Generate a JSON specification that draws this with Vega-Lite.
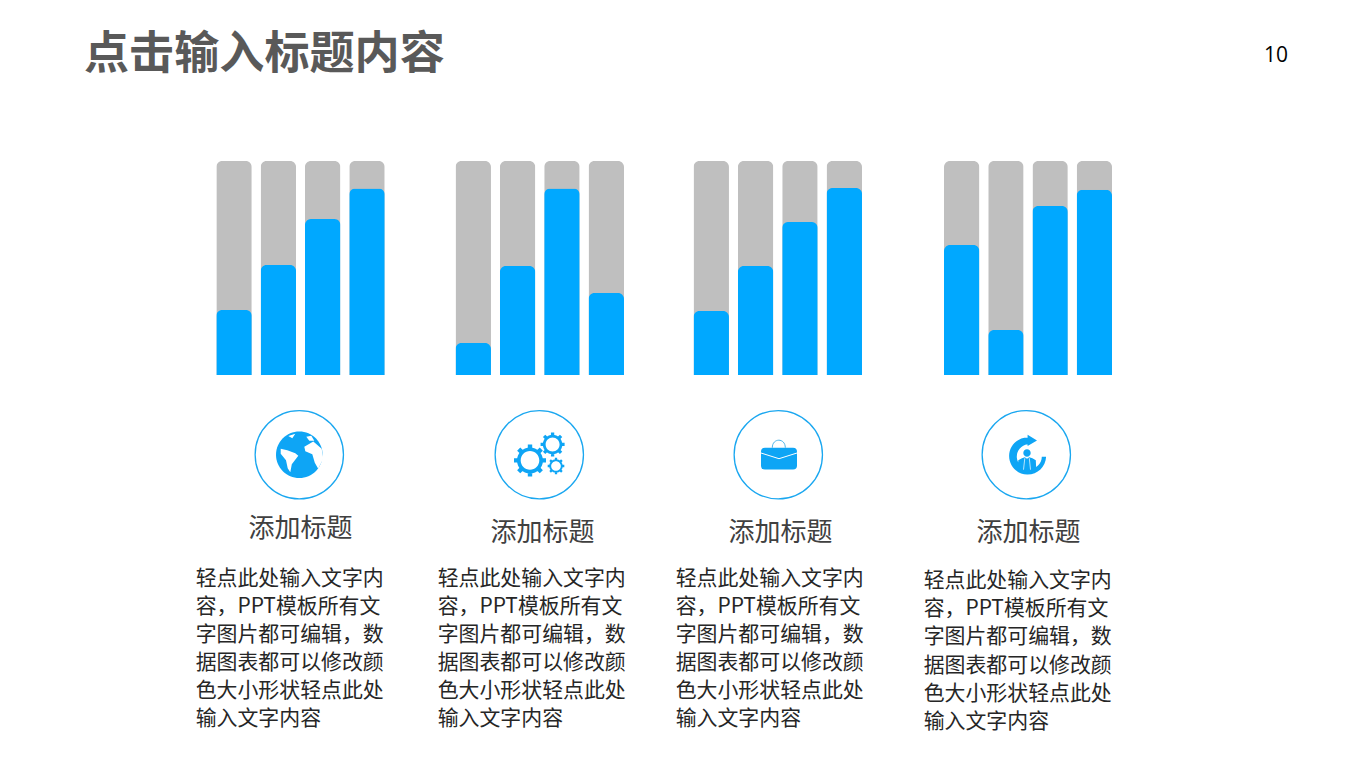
{"$schema":"https://vega.github.io/schema/vega-lite/v6.json","width":1350,"height":759,"padding":0,"autosize":{"type":"fit","contains":"padding"},"background":"#ffffff","view":{"stroke":null},"config":{"text":{"font":"Noto Sans CJK SC"}},
"datasets":{
"bars":[
{"group":"A","bar":1,"value":30.4,"total":100},{"group":"A","bar":2,"value":51.4,"total":100},{"group":"A","bar":3,"value":72.9,"total":100},{"group":"A","bar":4,"value":87.1,"total":100},
{"group":"B","bar":1,"value":14.9,"total":100},{"group":"B","bar":2,"value":50.9,"total":100},{"group":"B","bar":3,"value":87.1,"total":100},{"group":"B","bar":4,"value":38.3,"total":100},
{"group":"C","bar":1,"value":29.9,"total":100},{"group":"C","bar":2,"value":50.9,"total":100},{"group":"C","bar":3,"value":71.5,"total":100},{"group":"C","bar":4,"value":87.4,"total":100},
{"group":"D","bar":1,"value":60.7,"total":100},{"group":"D","bar":2,"value":21.0,"total":100},{"group":"D","bar":3,"value":79.0,"total":100},{"group":"D","bar":4,"value":86.6,"total":100}],
"groups":[{"group":"A","heading":"添加标题"},{"group":"B","heading":"添加标题"},{"group":"C","heading":"添加标题"},{"group":"D","heading":"添加标题"}],
"lines":[
{"group":"A","line":1,"text":"轻点此处输入文字内"},{"group":"A","line":2,"text":"容，PPT模板所有文"},{"group":"A","line":3,"text":"字图片都可编辑，数"},{"group":"A","line":4,"text":"据图表都可以修改颜"},{"group":"A","line":5,"text":"色大小形状轻点此处"},{"group":"A","line":6,"text":"输入文字内容"},
{"group":"B","line":1,"text":"轻点此处输入文字内"},{"group":"B","line":2,"text":"容，PPT模板所有文"},{"group":"B","line":3,"text":"字图片都可编辑，数"},{"group":"B","line":4,"text":"据图表都可以修改颜"},{"group":"B","line":5,"text":"色大小形状轻点此处"},{"group":"B","line":6,"text":"输入文字内容"},
{"group":"C","line":1,"text":"轻点此处输入文字内"},{"group":"C","line":2,"text":"容，PPT模板所有文"},{"group":"C","line":3,"text":"字图片都可编辑，数"},{"group":"C","line":4,"text":"据图表都可以修改颜"},{"group":"C","line":5,"text":"色大小形状轻点此处"},{"group":"C","line":6,"text":"输入文字内容"},
{"group":"D","line":1,"text":"轻点此处输入文字内"},{"group":"D","line":2,"text":"容，PPT模板所有文"},{"group":"D","line":3,"text":"字图片都可编辑，数"},{"group":"D","line":4,"text":"据图表都可以修改颜"},{"group":"D","line":5,"text":"色大小形状轻点此处"},{"group":"D","line":6,"text":"输入文字内容"}],
"page":[{"title":"点击输入标题内容","number":"10"}]
},
"resolve":{"scale":{"x":"independent","y":"independent"}},
"layer":[
{"data":{"name":"page"},"mark":{"type":"text","fontSize":45.1,"fontWeight":"bold","color":"#595959","align":"left"},"encoding":{"x":{"field":"title","type":"nominal","axis":null,"scale":{"type":"point","range":[84,84]}},"y":{"field":"title","type":"nominal","axis":null,"scale":{"type":"point","range":[55,55]}},"text":{"field":"title"}}},
{"data":{"name":"page"},"mark":{"type":"text","fontSize":21,"font":"Open Sans","color":"#000000","align":"left"},"encoding":{"x":{"field":"number","type":"nominal","axis":null,"scale":{"type":"point","range":[1264,1264]}},"y":{"field":"number","type":"nominal","axis":null,"scale":{"type":"point","range":[56,56]}},"text":{"field":"number"}}},

{"data":{"name":"bars"},"transform":[{"filter":"datum.group==='A'"}],"encoding":{"x":{"field":"bar","type":"ordinal","axis":null,"scale":{"type":"band","range":[216.3,384.7],"paddingInner":0.2,"paddingOuter":0}}},"layer":[
{"mark":{"type":"bar","color":"#bfbfbf","cornerRadiusTopLeft":6,"cornerRadiusTopRight":6},"encoding":{"y":{"field":"total","type":"quantitative","axis":null,"scale":{"domain":[0,100],"range":[375,161]}}}},
{"mark":{"type":"bar","color":"#00a8ff","cornerRadiusTopLeft":6,"cornerRadiusTopRight":6},"encoding":{"y":{"field":"value","type":"quantitative","axis":null,"scale":{"domain":[0,100],"range":[375,161]}}}}]},
{"data":{"name":"bars"},"transform":[{"filter":"datum.group==='B'"}],"encoding":{"x":{"field":"bar","type":"ordinal","axis":null,"scale":{"type":"band","range":[455.5,624],"paddingInner":0.2,"paddingOuter":0}}},"layer":[
{"mark":{"type":"bar","color":"#bfbfbf","cornerRadiusTopLeft":6,"cornerRadiusTopRight":6},"encoding":{"y":{"field":"total","type":"quantitative","axis":null,"scale":{"domain":[0,100],"range":[375,161]}}}},
{"mark":{"type":"bar","color":"#00a8ff","cornerRadiusTopLeft":6,"cornerRadiusTopRight":6},"encoding":{"y":{"field":"value","type":"quantitative","axis":null,"scale":{"domain":[0,100],"range":[375,161]}}}}]},
{"data":{"name":"bars"},"transform":[{"filter":"datum.group==='C'"}],"encoding":{"x":{"field":"bar","type":"ordinal","axis":null,"scale":{"type":"band","range":[693.5,862],"paddingInner":0.2,"paddingOuter":0}}},"layer":[
{"mark":{"type":"bar","color":"#bfbfbf","cornerRadiusTopLeft":6,"cornerRadiusTopRight":6},"encoding":{"y":{"field":"total","type":"quantitative","axis":null,"scale":{"domain":[0,100],"range":[375,161]}}}},
{"mark":{"type":"bar","color":"#00a8ff","cornerRadiusTopLeft":6,"cornerRadiusTopRight":6},"encoding":{"y":{"field":"value","type":"quantitative","axis":null,"scale":{"domain":[0,100],"range":[375,161]}}}}]},
{"data":{"name":"bars"},"transform":[{"filter":"datum.group==='D'"}],"encoding":{"x":{"field":"bar","type":"ordinal","axis":null,"scale":{"type":"band","range":[944,1112],"paddingInner":0.2,"paddingOuter":0}}},"layer":[
{"mark":{"type":"bar","color":"#bfbfbf","cornerRadiusTopLeft":6,"cornerRadiusTopRight":6},"encoding":{"y":{"field":"total","type":"quantitative","axis":null,"scale":{"domain":[0,100],"range":[375,161]}}}},
{"mark":{"type":"bar","color":"#00a8ff","cornerRadiusTopLeft":6,"cornerRadiusTopRight":6},"encoding":{"y":{"field":"value","type":"quantitative","axis":null,"scale":{"domain":[0,100],"range":[375,161]}}}}]},

{"data":{"name":"groups"},"transform":[{"filter":"datum.group==='A'"}],"encoding":{"x":{"field":"group","type":"nominal","axis":null,"scale":{"type":"point","range":[299.3,299.3]}},"y":{"field":"group","type":"nominal","axis":null,"scale":{"type":"point","range":[454.7,454.7]}}},"layer":[
{"mark":{"type":"point","shape":"circle","size":7800,"filled":false,"stroke":"#1aa7f0","strokeWidth":1.3,"opacity":1}},
{"mark":{"type":"point","shape":"M23.3 0A23.3 23.3 0 1 1 -23.3 0A23.3 23.3 0 1 1 23.3 0Z","size":4,"filled":true,"fill":"#0ea5f5","strokeWidth":0,"opacity":1}},
{"mark":{"type":"point","shape":"M-18.6 -6L-12 -4.4L-4 -1.5L-1 1L-7.5 9.5L-9 17.5L-11.6 13.5L-13.3 5.5L-18.6 -1ZM5 -8L14 -13.3L22.4 -6L24 4L18.9 14L15.5 8L13 -0.5L6 -3.5ZM-11 -18.6L-4 -21L-7 -16.5ZM7 -18L12 -19L15 -14L10 -14Z","size":4,"filled":true,"fill":"#ffffff","strokeWidth":0,"opacity":1}}]},

{"data":{"name":"groups"},"transform":[{"filter":"datum.group==='B'"}],"encoding":{"x":{"field":"group","type":"nominal","axis":null,"scale":{"type":"point","range":[539.3,539.3]}},"y":{"field":"group","type":"nominal","axis":null,"scale":{"type":"point","range":[454.7,454.7]}}},"layer":[
{"mark":{"type":"point","shape":"circle","size":7800,"filled":false,"stroke":"#1aa7f0","strokeWidth":1.3,"opacity":1}},
{"mark":{"type":"point","shape":"M13 0A13 13 0 1 1 -13 0A13 13 0 1 1 13 0ZM9.3 0A9.3 9.3 0 1 0 -9.3 0A9.3 9.3 0 1 0 9.3 0ZM12 -2.2L16 -2.2L16 2.2L12 2.2ZM10.04 6.93L12.87 9.76L9.76 12.87L6.93 10.04ZM2.2 12L2.2 16L-2.2 16L-2.2 12ZM-6.93 10.04L-9.76 12.87L-12.87 9.76L-10.04 6.93ZM-12 2.2L-16 2.2L-16 -2.2L-12 -2.2ZM-10.04 -6.93L-12.87 -9.76L-9.76 -12.87L-6.93 -10.04ZM-2.2 -12L-2.2 -16L2.2 -16L2.2 -12ZM6.93 -10.04L9.76 -12.87L12.87 -9.76L10.04 -6.93Z","size":4,"xOffset":-9.3,"yOffset":5.7,"filled":true,"fill":"#0ea5f5","strokeWidth":0,"opacity":1}},
{"mark":{"type":"point","shape":"M13 0A13 13 0 1 1 -13 0A13 13 0 1 1 13 0ZM9.3 0A9.3 9.3 0 1 0 -9.3 0A9.3 9.3 0 1 0 9.3 0ZM12 -2.2L16 -2.2L16 2.2L12 2.2ZM10.04 6.93L12.87 9.76L9.76 12.87L6.93 10.04ZM2.2 12L2.2 16L-2.2 16L-2.2 12ZM-6.93 10.04L-9.76 12.87L-12.87 9.76L-10.04 6.93ZM-12 2.2L-16 2.2L-16 -2.2L-12 -2.2ZM-10.04 -6.93L-12.87 -9.76L-9.76 -12.87L-6.93 -10.04ZM-2.2 -12L-2.2 -16L2.2 -16L2.2 -12ZM6.93 -10.04L9.76 -12.87L12.87 -9.76L10.04 -6.93Z","size":2.25,"xOffset":13.3,"yOffset":-10.3,"filled":true,"fill":"#0ea5f5","strokeWidth":0,"opacity":1}},
{"mark":{"type":"point","shape":"M13 0A13 13 0 1 1 -13 0A13 13 0 1 1 13 0ZM9.3 0A9.3 9.3 0 1 0 -9.3 0A9.3 9.3 0 1 0 9.3 0ZM12 -2.2L16 -2.2L16 2.2L12 2.2ZM10.04 6.93L12.87 9.76L9.76 12.87L6.93 10.04ZM2.2 12L2.2 16L-2.2 16L-2.2 12ZM-6.93 10.04L-9.76 12.87L-12.87 9.76L-10.04 6.93ZM-12 2.2L-16 2.2L-16 -2.2L-12 -2.2ZM-10.04 -6.93L-12.87 -9.76L-9.76 -12.87L-6.93 -10.04ZM-2.2 -12L-2.2 -16L2.2 -16L2.2 -12ZM6.93 -10.04L9.76 -12.87L12.87 -9.76L10.04 -6.93Z","size":1.08,"xOffset":16.7,"yOffset":11.3,"filled":true,"fill":"#0ea5f5","strokeWidth":0,"opacity":1}}]},

{"data":{"name":"groups"},"transform":[{"filter":"datum.group==='C'"}],"encoding":{"x":{"field":"group","type":"nominal","axis":null,"scale":{"type":"point","range":[778.3,778.3]}},"y":{"field":"group","type":"nominal","axis":null,"scale":{"type":"point","range":[454.7,454.7]}}},"layer":[
{"mark":{"type":"point","shape":"circle","size":7800,"filled":false,"stroke":"#1aa7f0","strokeWidth":1.3,"opacity":1}},
{"mark":{"type":"point","shape":"M-6 -7C-6 -17 7 -17 7 -7","size":4,"filled":false,"stroke":"#4db5ea","strokeWidth":1,"opacity":1}},
{"mark":{"type":"point","shape":"M-13.3 -7H14.7Q18.7 -7 18.7 -3V10.7Q18.7 14.7 14.7 14.7H-13.3Q-17.3 14.7 -17.3 10.7V-3Q-17.3 -7 -13.3 -7Z","size":4,"filled":true,"fill":"#0ea5f5","strokeWidth":0,"opacity":1}},
{"mark":{"type":"point","shape":"M-17.3 -1.7L0.7 4L18.7 -1.7","size":4,"filled":false,"stroke":"#ffffff","strokeWidth":1,"opacity":1}}]},

{"data":{"name":"groups"},"transform":[{"filter":"datum.group==='D'"}],"encoding":{"x":{"field":"group","type":"nominal","axis":null,"scale":{"type":"point","range":[1026.3,1026.3]}},"y":{"field":"group","type":"nominal","axis":null,"scale":{"type":"point","range":[454.7,454.7]}}},"layer":[
{"mark":{"type":"point","shape":"circle","size":7800,"filled":false,"stroke":"#1aa7f0","strokeWidth":1.3,"opacity":1}},
{"mark":{"type":"point","shape":"M19.8 2A18.5 18.5 0 1 1 1.3 -17.2L1.3 -10.5A12.5 12.5 0 1 0 15.5 2ZM1.3 -20L10.7 -14.3L1.3 -8.7ZM4.4 -1.7A3.7 3.7 0 1 1 -3 -1.7A3.7 3.7 0 1 1 4.4 -1.7ZM-8.5 16L-8 5.5Q-4 3 -1.5 2.5L0.7 4L3 2.5Q6 3 9.5 5.5L10 16Z","size":4,"filled":true,"fill":"#0ea5f5","strokeWidth":0,"opacity":1}},
{"mark":{"type":"point","shape":"M-1.5 3.5L-2.8 15M3 3.5L4.2 15","size":4,"filled":false,"stroke":"#ffffff","strokeWidth":0.7,"opacity":1}}]},

{"data":{"name":"groups"},"transform":[{"filter":"datum.group==='A'"}],"mark":{"type":"text","fontSize":26,"color":"#404040","align":"center"},"encoding":{"x":{"field":"group","type":"nominal","axis":null,"scale":{"type":"point","range":[300.5,300.5]}},"y":{"field":"group","type":"nominal","axis":null,"scale":{"type":"point","range":[529,529]}},"text":{"field":"heading"}}},
{"data":{"name":"groups"},"transform":[{"filter":"datum.group==='B'"}],"mark":{"type":"text","fontSize":26,"color":"#404040","align":"center"},"encoding":{"x":{"field":"group","type":"nominal","axis":null,"scale":{"type":"point","range":[542.5,542.5]}},"y":{"field":"group","type":"nominal","axis":null,"scale":{"type":"point","range":[533,533]}},"text":{"field":"heading"}}},
{"data":{"name":"groups"},"transform":[{"filter":"datum.group==='C'"}],"mark":{"type":"text","fontSize":26,"color":"#404040","align":"center"},"encoding":{"x":{"field":"group","type":"nominal","axis":null,"scale":{"type":"point","range":[780.5,780.5]}},"y":{"field":"group","type":"nominal","axis":null,"scale":{"type":"point","range":[533,533]}},"text":{"field":"heading"}}},
{"data":{"name":"groups"},"transform":[{"filter":"datum.group==='D'"}],"mark":{"type":"text","fontSize":26,"color":"#404040","align":"center"},"encoding":{"x":{"field":"group","type":"nominal","axis":null,"scale":{"type":"point","range":[1028.5,1028.5]}},"y":{"field":"group","type":"nominal","axis":null,"scale":{"type":"point","range":[533,533]}},"text":{"field":"heading"}}},

{"data":{"name":"lines"},"transform":[{"filter":"datum.group==='A'"}],"mark":{"type":"text","fontSize":20.9,"color":"#262626","align":"left"},"encoding":{"x":{"field":"group","type":"nominal","axis":null,"scale":{"type":"point","range":[195.7,195.7]}},"y":{"field":"line","type":"ordinal","axis":null,"scale":{"type":"point","range":[579,719],"padding":0}},"text":{"field":"text"}}},
{"data":{"name":"lines"},"transform":[{"filter":"datum.group==='B'"}],"mark":{"type":"text","fontSize":20.9,"color":"#262626","align":"left"},"encoding":{"x":{"field":"group","type":"nominal","axis":null,"scale":{"type":"point","range":[437.7,437.7]}},"y":{"field":"line","type":"ordinal","axis":null,"scale":{"type":"point","range":[579,719],"padding":0}},"text":{"field":"text"}}},
{"data":{"name":"lines"},"transform":[{"filter":"datum.group==='C'"}],"mark":{"type":"text","fontSize":20.9,"color":"#262626","align":"left"},"encoding":{"x":{"field":"group","type":"nominal","axis":null,"scale":{"type":"point","range":[675.7,675.7]}},"y":{"field":"line","type":"ordinal","axis":null,"scale":{"type":"point","range":[579,719],"padding":0}},"text":{"field":"text"}}},
{"data":{"name":"lines"},"transform":[{"filter":"datum.group==='D'"}],"mark":{"type":"text","fontSize":20.9,"color":"#262626","align":"left"},"encoding":{"x":{"field":"group","type":"nominal","axis":null,"scale":{"type":"point","range":[923.7,923.7]}},"y":{"field":"line","type":"ordinal","axis":null,"scale":{"type":"point","range":[581,722],"padding":0}},"text":{"field":"text"}}}
]}
